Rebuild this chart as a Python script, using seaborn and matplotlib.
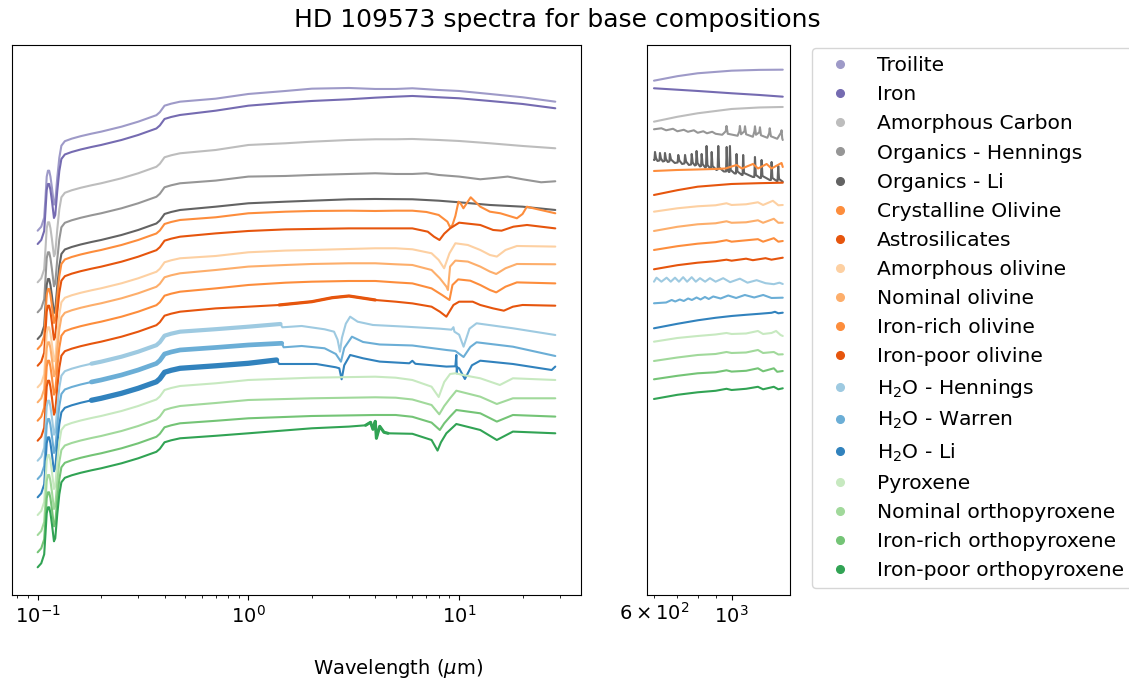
import matplotlib
matplotlib.use("Agg")
import matplotlib.pyplot as plt
from matplotlib.lines import Line2D
import pandas as pd
import seaborn as sns

# ---- compositions, colours and vertical stacking offsets (arbitrary flux units) ----
series_names = [
    "Troilite", "Iron", "Amorphous Carbon", "Organics - Hennings", "Organics - Li",
    "Crystalline Olivine", "Astrosilicates", "Amorphous olivine", "Nominal olivine",
    "Iron-rich olivine", "Iron-poor olivine", "H$_2$O - Hennings", "H$_2$O - Warren",
    "H$_2$O - Li", "Pyroxene", "Nominal orthopyroxene", "Iron-rich orthopyroxene",
    "Iron-poor orthopyroxene",
]
series_colors = [
    "#9e9ac8", "#756bb1", "#bdbdbd", "#969696", "#636363",
    "#fd8d3c", "#e6550d", "#fdd0a2", "#fdae6b",
    "#fd8d3c", "#e6550d", "#9ecae1", "#6baed6",
    "#3182bd", "#c7e9c0", "#a1d99b", "#74c476",
    "#31a354",
]
offsets = [49.30, 47.97, 44.14, 41.14, 38.47, 37.47, 35.80, 33.64, 32.14,
           30.30, 28.30, 26.30, 24.47, 22.64, 20.87, 18.87, 17.14, 15.64]

# ---- stellar UV/optical part shared by every model (relative to 0.474 um) ----
uv_wl = [0.100, 0.104, 0.1074, 0.1089, 0.1104, 0.1119, 0.1134, 0.1150, 0.1169, 0.1195,
         0.1212, 0.1239, 0.1267, 0.1296, 0.1346, 0.145, 0.16, 0.18, 0.20, 0.25, 0.30,
         0.366, 0.38, 0.40, 0.43]
uv_shape = [-12.9, -12.5, -11.6, -9.6, -7.5, -6.9, -6.9, -7.5, -8.6, -10.3,
            -10.0, -7.6, -5.6, -4.4, -3.95, -3.7, -3.45, -3.2, -3.0, -2.5, -2.0,
            -1.35, -1.05, -0.4, -0.2]

# ---- near/mid-IR spectra, (wavelength um, relative flux) ----
tro_mir = [(0.474, 0.0), (0.7, 0.3), (1.0, 0.77), (1.5, 1.07), (2.0, 1.3), (3.0, 1.37),
           (4.0, 1.27), (5.0, 1.27), (6.0, 1.34), (8.0, 1.17), (10.0, 1.07), (14.0, 0.77),
           (20.0, 0.44), (28.6, 0.0)]
iron_mir = [(0.474, 0.0), (0.7, 0.43), (1.0, 0.93), (1.5, 1.23), (2.0, 1.4), (3.0, 1.57),
            (4.0, 1.73), (5.0, 1.83), (6.0, 1.9), (8.0, 1.77), (10.0, 1.67), (14.0, 1.4),
            (20.0, 1.1), (28.6, 0.67)]
amc_mir = [(0.474, 0.0), (0.7, 0.33), (1.0, 0.83), (1.5, 1.0), (2.0, 1.16), (3.0, 1.33),
           (4.0, 1.4), (5.0, 1.4), (6.0, 1.43), (8.0, 1.33), (10.0, 1.23), (14.0, 1.0),
           (20.0, 0.73), (28.6, 0.5)]
orgh_mir = [(0.474, 0.0), (0.7, 0.27), (1.0, 0.67), (1.5, 0.73), (2.0, 0.83), (3.0, 0.93),
            (4.0, 1.0), (5.0, 0.93), (6.0, 0.93), (7.0, 1.0), (8.0, 0.83), (10.0, 0.67),
            (12.6, 0.4), (15.0, 0.55), (17.0, 0.67), (20.0, 0.4), (24.5, 0.1), (28.6, 0.2)]
orgli_mir = [(0.474, 0.0), (0.7, 0.33), (1.0, 0.67), (1.5, 0.83), (2.0, 0.93), (3.0, 1.07),
             (4.0, 1.1), (6.0, 1.07), (8.0, 0.93), (10.0, 0.77), (14.0, 0.5), (20.0, 0.33),
             (28.6, 0.0)]
crol_mir = [(0.474, 0.0), (0.7, 0.27), (1.0, 0.67), (1.5, 0.83), (2.0, 0.9), (3.0, 0.93),
            (4.0, 0.9), (5.0, 0.93), (6.0, 0.93), (7.0, 0.8), (8.0, 0.5), (8.8, -0.17),
            (9.06, -0.73), (9.3, -0.5), (9.6, 0.4), (9.93, 1.83), (10.2, 1.6), (10.48, 1.17),
            (11.35, 2.27), (12.6, 1.33), (14.0, 0.83), (15.7, 0.67), (18.8, 0.17), (20.0, 0.6),
            (20.96, 1.33), (22.5, 1.17), (28.6, 0.67)]
astro_mir = [(0.474, 0.0), (0.7, 0.33), (1.0, 0.57), (1.5, 0.73), (2.0, 0.77), (3.0, 0.83),
             (6.0, 0.83), (7.1, 0.5), (7.6, 0.0), (8.07, -0.33), (8.5, 0.3), (9.06, 0.83),
             (10.0, 1.4), (12.6, 1.17), (14.5, 0.67), (15.9, 0.6), (18.1, 1.0), (21.0, 1.17),
             (28.6, 0.83)]
amol_mir = [(0.474, 0.0), (0.7, 0.23), (1.0, 0.6), (1.5, 0.77), (2.0, 0.83), (3.0, 0.93),
            (4.0, 1.0), (5.0, 1.0), (6.0, 0.9), (7.4, 0.5), (8.0, -0.17), (8.49, -1.0),
            (9.0, 0.5), (9.6, 1.5), (11.0, 1.33), (12.6, 0.83), (14.0, 0.33), (15.1, 0.17),
            (16.6, 0.83), (18.8, 1.23), (28.6, 1.17)]
nomol_mir = [(0.474, 0.0), (0.7, 0.33), (1.0, 0.67), (1.5, 0.83), (2.0, 0.93), (3.0, 1.0),
             (4.0, 1.0), (5.0, 0.9), (6.0, 0.83), (7.4, 0.33), (8.1, -0.5), (8.7, -1.33),
             (8.85, -1.67), (9.06, 0.67), (9.6, 1.27), (11.0, 1.17), (12.6, 0.67), (14.0, 0.17),
             (15.0, -0.07), (16.6, 0.5), (18.8, 0.93), (28.6, 0.9)]
iro_mir = [(0.474, 0.0), (0.7, 0.33), (1.0, 0.67), (1.5, 0.9), (2.0, 1.0), (3.0, 1.07),
           (4.0, 1.07), (5.0, 0.93), (6.0, 0.83), (7.4, 0.33), (8.3, -0.33), (9.0, -0.83),
           (9.3, 0.67), (9.9, 1.23), (11.3, 1.1), (12.6, 0.67), (14.0, 0.17), (15.0, -0.07),
           (16.6, 0.5), (18.8, 0.93), (28.6, 0.83)]
ipo_mir = [(0.474, 0.0), (0.7, 0.33), (1.0, 0.5), (1.4, 0.67), (2.0, 1.0), (2.5, 1.4),
           (3.0, 1.57), (4.0, 1.17), (5.0, 1.0), (6.0, 0.83), (7.4, 0.5), (8.1, 0.0),
           (8.7, -0.5), (9.4, 0.67), (10.0, 1.0), (11.6, 1.0), (12.6, 0.67), (14.5, 0.33),
           (16.3, 0.1), (18.0, 0.5), (20.0, 0.67), (28.6, 0.6)]
h2oh_mir = [(0.474, 0.0), (0.7, 0.25), (1.0, 0.5), (1.42, 0.77), (1.45, 0.44), (1.79, 0.57),
            (2.3, 0.24), (2.55, 0.0), (2.65, -0.8), (2.72, -2.0), (2.78, -0.6), (2.9, 0.8),
            (3.04, 1.5), (3.3, 1.0), (3.9, 0.67), (5.6, 0.5), (8.1, 0.3), (9.2, 0.2),
            (9.4, 0.45), (9.5, 0.0), (10.0, -0.3), (10.5, -1.5), (11.2, 0.3), (12.1, 0.84),
            (18.0, 0.34), (28.6, -0.33)]
h2ow_mir = [(0.474, 0.0), (0.7, 0.25), (1.0, 0.5), (1.44, 0.67), (1.47, 0.27), (1.79, 0.4),
            (2.3, 0.17), (2.6, -0.4), (2.75, -1.17), (2.85, 0.2), (3.1, 1.33), (3.5, 0.8),
            (4.2, 0.55), (6.0, 0.45), (8.7, 0.0), (9.6, -0.1), (10.5, -0.7), (11.3, 0.3),
            (12.1, 0.77), (18.0, 0.33), (28.6, -0.6)]
h2oli_mir = [(0.474, 0.0), (0.7, 0.25), (1.0, 0.5), (1.36, 0.83), (1.4, 0.43), (2.1, 0.43),
             (2.6, 0.1), (2.7, 0.0), (2.77, -1.1), (2.85, 0.3), (3.04, 1.33), (3.5, 1.0),
             (4.2, 0.67), (5.8, 0.5), (6.0, 0.75), (6.2, 0.45), (8.7, 0.17), (9.6, 0.2),
             (9.7, 1.33), (9.75, -0.5), (9.8, 0.1), (10.0, 0.0), (10.65, -1.07), (11.5, 0.3),
             (12.6, 0.76), (18.0, 0.43), (27.5, -0.17), (28.6, 0.17)]
pyr_mir = [(0.474, 0.0), (0.7, 0.27), (1.0, 0.6), (2.0, 0.83), (4.0, 0.93), (5.0, 0.83),
           (6.0, 0.6), (7.4, -0.07), (8.0, -1.1), (8.5, 0.4), (9.06, 1.2), (9.6, 1.27),
           (11.0, 1.0), (12.6, 0.77), (15.6, 0.1), (18.0, 0.77), (28.6, 0.6)]
nomop_mir = [(0.474, 0.0), (0.7, 0.3), (1.0, 0.6), (2.0, 0.77), (4.0, 0.87), (5.0, 0.83),
             (6.0, 0.65), (7.4, 0.1), (8.05, -0.83), (8.5, 0.0), (9.06, 0.77), (9.7, 1.53),
             (12.6, 0.93), (15.1, 0.2), (18.0, 0.77), (28.6, 0.77)]
irop_mir = [(0.474, 0.0), (0.7, 0.25), (1.0, 0.5), (2.0, 0.73), (4.0, 0.83), (5.0, 0.83),
            (6.0, 0.65), (7.4, 0.07), (8.1, -0.67), (8.5, 0.0), (9.06, 0.67), (9.7, 1.33),
            (12.6, 1.0), (15.1, 0.17), (18.0, 0.83), (28.6, 0.67)]
ipop_mir = [(0.474, 0.0), (0.7, 0.25), (1.0, 0.5), (2.0, 1.0), (3.0, 1.17), (3.6, 1.3),
            (3.8, 1.6), (3.9, 0.9), (4.0, 1.7), (4.05, 0.0), (4.2, 1.2), (4.4, 0.6),
            (4.6, 0.5), (6.0, 0.45), (7.4, -0.17), (7.9, -1.23), (8.2, -0.4), (8.7, 0.5),
            (9.7, 1.43), (12.6, 0.83), (15.1, -0.17), (18.0, 0.67), (28.6, 0.5)]

# ---- sub-mm spectra, (wavelength um, relative flux) ----
tro_fir = [(600, 2.1), (700, 2.55), (800, 2.84), (1000, 3.1), (1200, 3.18), (1400, 3.2)]
iron_fir = [(600, 2.67), (800, 2.4), (1000, 2.17), (1200, 2.0), (1400, 1.83)]
amc_fir = [(600, 3.16), (700, 3.65), (800, 4.0), (1000, 4.43), (1200, 4.58), (1400, 4.63)]
orgh_fir = [(600, 5.4), (630, 5.5), (650, 5.3), (680, 5.45), (700, 5.2), (730, 5.35),
            (750, 5.15), (780, 5.3), (800, 5.05), (830, 5.2), (850, 5.0), (880, 5.15),
            (900, 4.95), (940, 4.85), (962, 5.2), (967, 5.73), (975, 4.95), (1040, 4.75),
            (1052, 5.2), (1056, 5.73), (1064, 4.9), (1088, 5.2), (1092, 5.7), (1100, 4.9),
            (1150, 4.65), (1162, 5.2), (1166, 5.7), (1174, 4.85), (1200, 5.1), (1205, 5.6),
            (1213, 4.8), (1265, 4.55), (1280, 5.0), (1285, 5.5), (1295, 4.7), (1350, 4.45),
            (1386, 5.1), (1389, 5.3), (1395, 4.5), (1400, 4.33)]
orgli_fir = [(600, 5.0), (602, 5.0), (604, 5.8), (608, 5.2), (614, 4.9), (622, 4.95),
             (624, 5.7), (628, 5.15), (636, 4.85), (643, 4.9), (645, 5.7), (649, 5.1),
             (657, 4.8), (664, 4.85), (666, 5.6), (671, 5.05), (688, 4.7), (701, 4.75),
             (704, 5.5), (709, 4.95), (722, 4.6), (733, 4.65), (736, 5.5), (741, 4.85),
             (755, 4.5), (766, 4.55), (769, 5.6), (774, 4.75), (785, 4.45), (791, 4.5),
             (794, 5.9), (799, 4.7), (812, 4.35), (818, 4.4), (821, 5.6), (826, 4.6),
             (840, 4.25), (845, 4.3), (848, 6.4), (853, 4.5), (868, 4.15), (874, 4.2),
             (877, 5.8), (882, 4.4), (905, 4.0), (912, 4.05), (916, 6.4), (921, 4.25),
             (950, 3.85), (964, 3.85), (968, 6.3), (973, 4.0), (982, 3.8), (986, 3.8),
             (989, 6.4), (994, 4.0), (1020, 3.65), (1029, 3.65), (1033, 5.6), (1039, 3.85),
             (1070, 3.5), (1075, 3.5), (1079, 5.5), (1085, 3.7), (1150, 3.3), (1161, 3.3),
             (1166, 5.3), (1173, 3.5), (1205, 3.2), (1213, 3.2), (1218, 5.0), (1225, 3.4),
             (1285, 3.0), (1295, 3.0), (1301, 4.8), (1308, 3.2), (1345, 2.9), (1353, 2.9),
             (1359, 4.4), (1366, 3.1), (1400, 2.83)]
crol_fir = [(600, 4.9), (700, 5.0), (800, 5.05), (900, 5.1), (960, 5.15), (1033, 5.5),
            (1070, 5.15), (1151, 5.6), (1190, 5.15), (1259, 5.6), (1300, 5.15), (1389, 5.7),
            (1400, 5.3)]
astro_fir = [(600, 4.17), (700, 4.65), (800, 5.0), (1000, 5.27), (1200, 5.35), (1400, 5.4)]
amol_fir = [(600, 4.66), (700, 5.0), (800, 5.2), (900, 5.3), (967, 5.5), (1000, 5.33),
            (1100, 5.4), (1189, 5.6), (1230, 5.33), (1312, 5.75), (1360, 5.3), (1400, 5.33)]
nomol_fir = [(600, 4.23), (700, 4.65), (800, 4.9), (900, 5.0), (967, 5.2), (1000, 5.05),
             (1100, 5.1), (1189, 5.3), (1230, 5.05), (1320, 5.45), (1360, 5.05), (1400, 5.06)]
iro_fir = [(600, 4.17), (700, 4.55), (800, 4.8), (900, 4.95), (967, 5.15), (1000, 5.0),
           (1189, 5.25), (1230, 5.0), (1320, 5.35), (1360, 5.0), (1400, 5.07)]
ipo_fir = [(600, 4.24), (700, 4.65), (800, 4.9), (900, 5.05), (967, 5.2), (1000, 5.1),
           (1100, 5.3), (1150, 5.15), (1250, 5.35), (1300, 5.2), (1400, 5.4)]
h2oh_fir = [(600, 5.0), (610, 5.4), (630, 5.0), (652, 5.4), (670, 5.0), (689, 5.4),
            (707, 5.0), (727, 5.45), (746, 5.0), (769, 5.45), (790, 5.0), (812, 5.35),
            (840, 5.0), (867, 5.35), (900, 5.0), (946, 5.35), (990, 4.95), (1056, 5.3),
            (1110, 4.9), (1179, 5.15), (1250, 4.85), (1320, 4.75), (1370, 4.9), (1400, 4.77)]
h2ow_fir = [(600, 4.67), (650, 4.75), (674, 5.0), (690, 4.85), (711, 5.05), (730, 4.9),
            (751, 5.15), (770, 5.0), (794, 5.25), (815, 5.05), (839, 5.3), (860, 5.1),
            (886, 5.35), (930, 5.15), (978, 5.45), (1030, 5.2), (1091, 5.5), (1160, 5.25),
            (1231, 5.5), (1300, 5.2), (1400, 5.23)]
h2oli_fir = [(600, 4.0), (700, 4.45), (800, 4.8), (900, 5.05), (1000, 5.23), (1100, 5.35),
             (1200, 5.45), (1300, 5.55), (1330, 5.65), (1360, 5.5), (1400, 5.56)]
pyr_fir = [(600, 4.43), (700, 4.8), (800, 5.0), (900, 5.15), (967, 5.3), (1000, 5.2),
           (1100, 5.25), (1189, 5.5), (1230, 5.2), (1300, 5.3), (1340, 5.5), (1380, 5.1),
           (1400, 5.0)]
nomop_fir = [(600, 4.5), (700, 4.85), (800, 5.1), (900, 5.2), (967, 5.4), (1000, 5.3),
             (1100, 5.35), (1189, 5.6), (1230, 5.3), (1320, 5.4), (1360, 5.15), (1400, 5.17)]
irop_fir = [(600, 4.4), (700, 4.75), (800, 5.0), (900, 5.1), (967, 5.3), (1000, 5.17),
            (1100, 5.25), (1189, 5.5), (1230, 5.2), (1320, 5.5), (1350, 5.15), (1400, 5.23)]
ipop_fir = [(600, 3.93), (700, 4.35), (800, 4.6), (900, 4.75), (967, 4.95), (1000, 4.83),
            (1100, 4.95), (1189, 5.15), (1230, 4.9), (1320, 5.15), (1360, 4.9), (1400, 5.0)]

mir_spectra = [tro_mir, iron_mir, amc_mir, orgh_mir, orgli_mir, crol_mir, astro_mir,
               amol_mir, nomol_mir, iro_mir, ipo_mir, h2oh_mir, h2ow_mir, h2oli_mir,
               pyr_mir, nomop_mir, irop_mir, ipop_mir]
fir_spectra = [tro_fir, iron_fir, amc_fir, orgh_fir, orgli_fir, crol_fir, astro_fir,
               amol_fir, nomol_fir, iro_fir, ipo_fir, h2oh_fir, h2ow_fir, h2oli_fir,
               pyr_fir, nomop_fir, irop_fir, ipop_fir]

# noisy stretches of the lab data, drawn as a broader trace: (start, end, linewidth)
noisy_ranges = {
    "H$_2$O - Hennings": (0.18, 1.42, 3.0),
    "H$_2$O - Warren": (0.18, 1.44, 3.4),
    "H$_2$O - Li": (0.18, 1.36, 3.8),
    "Iron-poor olivine": (1.4, 4.0, 2.3),
    "Iron-poor orthopyroxene": (3.6, 4.6, 2.2),
}

# ---- long-form tables ----
left_rows, right_rows = [], []
for name, off, mir, fir in zip(series_names, offsets, mir_spectra, fir_spectra):
    for w, v in zip(uv_wl, uv_shape):
        left_rows.append((name, w, v + off))
    for w, v in mir:
        left_rows.append((name, w, v + off))
    for w, v in fir:
        right_rows.append((name, w, v + off))
left = pd.DataFrame(left_rows, columns=["series", "wavelength", "flux"])
right = pd.DataFrame(right_rows, columns=["series", "wavelength", "flux"])

# ---- figure ----
sns.set_style("ticks", rc={"axes.edgecolor": "black", "xtick.color": "black",
                           "text.color": "black", "axes.labelcolor": "black",
                           "xtick.major.size": 3.5, "xtick.minor.size": 2.0,
                           "xtick.major.width": 0.8, "xtick.minor.width": 0.6})
plt.rcParams["font.family"] = ["DejaVu Sans"]

palette = dict(zip(series_names, series_colors))
fig = plt.figure(figsize=(11.29, 6.82), dpi=100)
ax1 = fig.add_axes([0.01036, 0.128, 0.5043, 0.8065])
ax2 = fig.add_axes([0.5733, 0.128, 0.1264, 0.8065], sharey=ax1)

common = dict(x="wavelength", y="flux", hue="series", hue_order=series_names,
              palette=palette, sort=False, estimator=None, legend=False)
sns.lineplot(data=left, ax=ax1, linewidth=1.5, **common)
for name, (lo, hi, lw) in noisy_ranges.items():
    seg = left[(left["series"] == name) & (left["wavelength"] >= lo) & (left["wavelength"] <= hi)]
    sns.lineplot(data=seg, ax=ax1, linewidth=lw, **common)
sns.lineplot(data=right, ax=ax2, linewidth=1.5, **common)

for ax in (ax1, ax2):
    ax.set_xscale("log")
    ax.set_xlabel("")
    ax.set_ylabel("")
    ax.tick_params(axis="y", left=False, labelleft=False)
    ax.tick_params(axis="x", which="both", labelsize=14, labelcolor="black")
    for sp in ax.spines.values():
        sp.set_visible(True)
        sp.set_linewidth(0.8)
ax1.set_xlim(0.0753, 37.9)
ax2.set_xlim(574, 1468)
ax1.set_ylim(0, 55)

handles = [Line2D([], [], marker="o", linestyle="", color=c, markersize=5.5)
           for c in series_colors]
fig.legend(handles, series_names, loc="upper left",
           bbox_to_anchor=(812 / 1129, 1 - 48 / 682), bbox_transform=fig.transFigure,
           fontsize=14.6, borderaxespad=0, frameon=True, labelcolor="black")

fig.text(0.494, 0.971, "HD 109573 spectra for base compositions",
         ha="center", va="center", fontsize=18, color="black")
fig.text(0.353, 0.0205, "Wavelength ($\\mu$m)", ha="center", va="center",
         fontsize=14, color="black")

fig.savefig("out.png", dpi=100)
